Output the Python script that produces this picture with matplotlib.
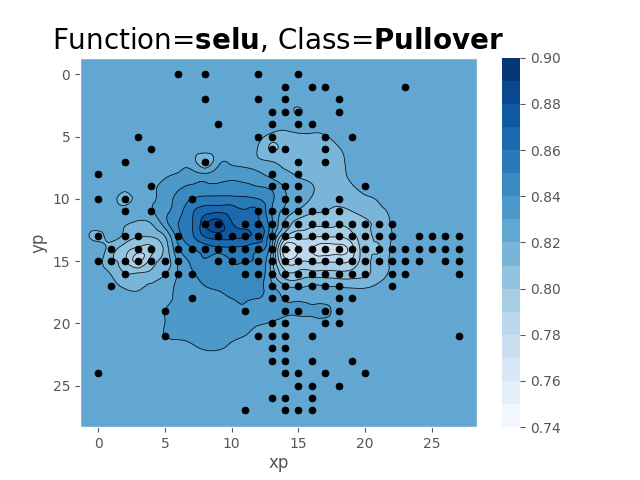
import numpy as np
import matplotlib
matplotlib.use("Agg")
import matplotlib.pyplot as plt
import matplotlib.tri as mtri

plt.style.use("ggplot")

# selected pixels, column numbers per row
pixels = {
    0: [6, 8, 12, 15],
    1: [14, 16, 17, 23],
    2: [8, 12, 14, 18],
    3: [13, 14, 15, 18],
    4: [9, 13, 15, 16],
    5: [3, 12, 13, 17, 19],
    6: [4, 13, 14, 17],
    7: [2, 8, 15, 17],
    8: [0, 13, 15],
    9: [4, 13, 14, 15, 20],
    10: [0, 2, 7, 14, 15, 18],
    11: [2, 4, 12, 13, 14, 15, 16, 17, 18],
    12: [8, 9, 11, 12, 13, 14, 15, 16, 17, 18, 19, 20, 21, 22],
    13: [0, 2, 3, 6, 9, 10, 11, 12, 13, 14, 15, 16, 17, 18, 19, 20, 21, 22, 24, 25, 26, 27],
    14: [1, 3, 4, 6, 7, 8, 9, 10, 11, 12, 13, 14, 15, 16, 17, 18, 19, 20, 21, 22, 23, 24, 25, 26, 27],
    15: [0, 1, 2, 3, 4, 5, 6, 9, 10, 11, 12, 13, 14, 15, 16, 17, 18, 19, 20, 21, 22, 23, 24, 26, 27],
    16: [2, 5, 6, 7, 11, 12, 13, 14, 15, 16, 17, 18, 19, 20, 22, 23, 27],
    17: [1, 13, 14, 15, 16, 17, 18, 22],
    18: [7, 13, 14, 18, 19],
    19: [5, 11, 14, 15, 17, 18],
    20: [13, 14, 17, 18],
    21: [5, 12, 13, 14, 16, 27],
    22: [13, 14],
    23: [13, 14, 16, 19],
    24: [0, 14, 15, 17, 20],
    25: [15, 16, 18],
    26: [13, 14, 16],
    27: [11, 14, 15, 16],
}

# accuracy x 1000, columns 0-23, anything else is background
background = 825
acc_rows = {
    3: [825]*15 + [819] + [825]*8,
    5: [825]*12 + [823, 816, 815, 817, 818, 819, 824] + [825]*5,
    6: [825]*12 + [819, 809, 814, 815, 816, 815, 819, 824] + [825]*4,
    7: [825]*8 + [813, 827, 828, 826, 822, 820, 816, 815, 815, 814, 817, 823] + [825]*4,
    8: [825]*5 + [828, 831, 833, 831, 835, 836, 835, 832, 827, 823, 818, 815, 814, 817, 822, 825] + [825]*3,
    9: [825]*4 + [828, 833, 838, 841, 842, 842, 843, 842, 840, 837, 829, 825, 821, 815, 815, 819, 824] + [825]*3,
    10: [825, 825, 816, 825, 829, 835, 843, 850, 853, 853, 853, 852, 850, 842, 831, 826, 819, 813, 812, 814, 818, 821, 825, 825],
    11: [825]*4 + [829, 837, 846, 858, 866, 868, 865, 861, 860, 840, 827, 818, 812, 810, 808, 810, 813, 817, 822, 825],
    12: [825, 824, 821, 818, 820, 835, 850, 859, 877, 884, 871, 866, 862, 843, 818, 806, 802, 802, 801, 803, 808, 813, 821, 825],
    13: [818, 823, 817, 811, 811, 820, 845, 858, 871, 875, 873, 871, 866, 838, 800, 793, 792, 791, 791, 797, 806, 813, 820, 825],
    14: [825, 815, 805, 797, 798, 813, 838, 849, 855, 857, 858, 857, 853, 830, 774, 781, 781, 776, 777, 786, 806, 809, 822, 825],
    15: [824, 812, 803, 788, 805, 813, 832, 842, 849, 843, 851, 851, 848, 825, 786, 788, 788, 788, 788, 792, 806, 814, 822, 825],
    16: [825, 819, 810, 811, 812, 819, 831, 839, 843, 845, 845, 840, 844, 827, 803, 803, 804, 804, 803, 804, 808, 815, 822, 825],
    17: [825, 823, 818, 818, 822, 826, 832, 837, 840, 842, 843, 844, 843, 832, 821, 818, 821, 820, 819, 818, 818, 822, 825, 825],
    18: [825]*5 + [827, 832, 835, 837, 838, 840, 841, 840, 836, 829, 828, 827, 826] + [825]*6,
    19: [825]*5 + [830, 833, 835, 836, 837, 838, 839, 837, 835, 832, 832, 832, 833, 826] + [825]*5,
    20: [825]*5 + [830, 833, 835, 835, 836, 836, 834, 831, 829, 826, 826, 826, 826] + [825]*6,
    21: [825]*5 + [830, 832, 833, 834, 834, 832, 830, 827] + [825]*11,
    22: [825]*7 + [828, 831, 831, 828, 826] + [825]*12,
}
levels = np.arange(74, 91) / 100
bar_ticks = [0.74, 0.76, 0.78, 0.80, 0.82, 0.84, 0.86, 0.88, 0.90]

xp = [c for r in pixels for c in pixels[r]]
yp = [r for r in pixels for c in pixels[r]]

# nodes: every pixel plus the edge of the view
nodes = np.array([-1.35] + list(range(28)) + [28.35])
gx, gy = np.meshgrid(nodes, nodes)
gz = np.full(gx.shape, background, dtype=float)
for r, vals in acc_rows.items():
    gz[r + 1, 1:len(vals) + 1] = vals
gz = gz / 1000

tri = mtri.Triangulation(gx.ravel(), gy.ravel())
fine_tri, fine_z = mtri.UniformTriRefiner(tri).refine_field(gz.ravel(), subdiv=3)

fig, ax = plt.subplots(figsize=(6.4, 4.8), dpi=100)
cs = ax.tricontourf(fine_tri, fine_z, levels=levels, cmap="Blues")
ax.tricontour(fine_tri, fine_z, levels=levels, colors="k", linewidths=0.6, alpha=0.85)
ax.scatter(xp, yp, s=25, c="k", zorder=3)
ax.set_xlim(-1.35, 28.35)
ax.set_ylim(28.35, -1.35)
ax.grid(False)
ax.set_xlabel("xp", labelpad=2.5)
ax.set_ylabel("yp")
ax.set_title(r"Function=$\bf{selu}$, Class=$\bf{Pullover}$", fontsize=20)

cbar = fig.colorbar(cs, ax=ax)
cbar.set_ticks(bar_ticks)
cbar.ax.set_yticklabels(["%.2f" % t for t in bar_ticks])
cbar.ax.grid(False)
cbar.outline.set_visible(False)

fig.savefig("out.png", dpi=100)
